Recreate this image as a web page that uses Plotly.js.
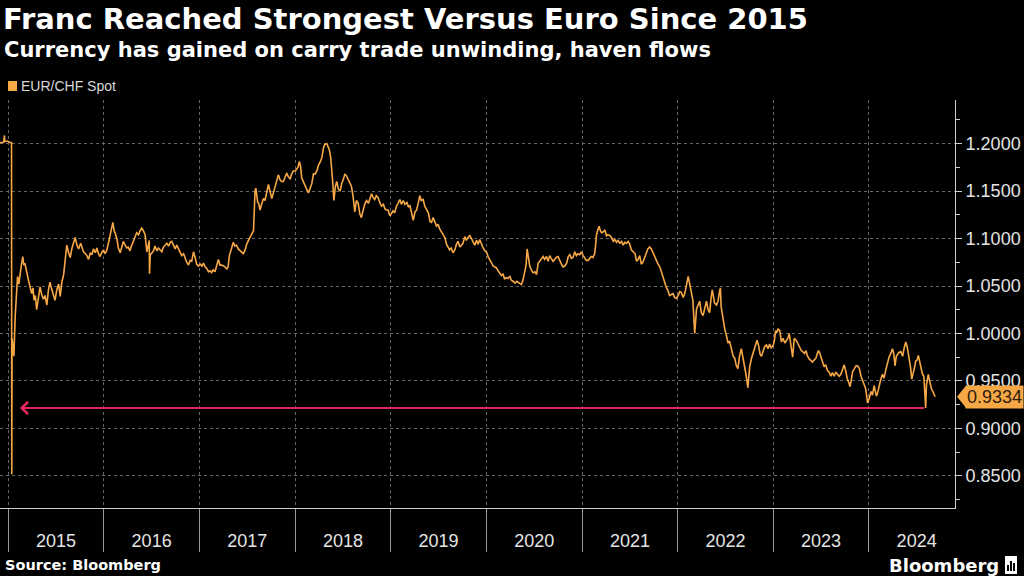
<!DOCTYPE html>
<html>
<head>
<meta charset="utf-8">
<script src="https://cdn.plot.ly/plotly-3.0.1.min.js"></script>
<style>html,body{margin:0;padding:0;background:#000;}#chart{width:1024px;height:576px;}</style>
</head>
<body>
<div id="chart"></div>
<script>
const titleText = 'Franc Reached Strongest Versus Euro Since 2015';
const subtitleText = 'Currency has gained on carry trade unwinding, haven flows';
const seriesName = 'EUR/CHF Spot';
const sourceText = 'Source: Bloomberg';
const yTickLabels = ['0.8500','0.9000','0.9500','1.0000','1.0500','1.1000','1.1500','1.2000'];
const arrowTip = '2015-02-15';

const dates = [
'2014-12-01','2014-12-05','2014-12-10','2014-12-15','2014-12-18','2014-12-19','2014-12-24','2014-12-31',
'2015-01-07','2015-01-14','2015-01-15','2015-01-16','2015-01-20','2015-01-23','2015-01-28','2015-02-03',
'2015-02-06','2015-02-11','2015-02-16','2015-02-20','2015-02-26','2015-03-02','2015-03-06','2015-03-12',
'2015-03-19','2015-03-25','2015-04-01','2015-04-06','2015-04-10','2015-04-15','2015-04-20','2015-04-27',
'2015-05-03','2015-05-09','2015-05-16','2015-05-22','2015-05-29','2015-06-04','2015-06-10','2015-06-16',
'2015-06-23','2015-06-29','2015-07-06','2015-07-13','2015-07-19','2015-07-25','2015-08-01','2015-08-07',
'2015-08-13','2015-08-20','2015-08-26','2015-09-02','2015-09-08','2015-09-14','2015-09-21','2015-09-27',
'2015-10-05','2015-10-10','2015-10-16','2015-10-23','2015-10-29','2015-11-04','2015-11-11','2015-11-17',
'2015-11-23','2015-11-30','2015-12-06','2015-12-12','2015-12-18','2015-12-24','2015-12-31',
'2016-01-06','2016-01-12','2016-01-19','2016-01-25','2016-01-29','2016-02-05','2016-02-10','2016-02-15',
'2016-02-20','2016-02-26','2016-03-04','2016-03-10','2016-03-16','2016-03-23','2016-03-29','2016-04-04',
'2016-04-10','2016-04-16','2016-04-23','2016-04-29','2016-05-06','2016-05-13','2016-05-19','2016-05-25',
'2016-06-01','2016-06-07','2016-06-14','2016-06-20','2016-06-23','2016-06-24','2016-06-27','2016-07-01',
'2016-07-09','2016-07-15','2016-07-22','2016-07-28','2016-08-03','2016-08-10','2016-08-16','2016-08-23',
'2016-08-29','2016-09-05','2016-09-11','2016-09-17','2016-09-24','2016-09-30','2016-10-06','2016-10-13',
'2016-10-19','2016-10-25','2016-11-01','2016-11-07','2016-11-13','2016-11-20','2016-11-26','2016-12-02',
'2016-12-09','2016-12-15','2016-12-21','2016-12-28',
'2017-01-04','2017-01-10','2017-01-16','2017-01-23','2017-01-30','2017-02-04','2017-02-10','2017-02-16',
'2017-02-22','2017-03-01','2017-03-07','2017-03-14','2017-03-20','2017-03-27','2017-04-03','2017-04-09',
'2017-04-15','2017-04-20','2017-04-25','2017-05-02','2017-05-10','2017-05-16','2017-05-22','2017-05-29',
'2017-06-05','2017-06-11','2017-06-17','2017-06-24','2017-06-30','2017-07-07','2017-07-14','2017-07-20',
'2017-07-26','2017-07-28','2017-08-01','2017-08-04','2017-08-08','2017-08-11','2017-08-15','2017-08-20',
'2017-08-25','2017-09-02','2017-09-08','2017-09-14','2017-09-21','2017-09-27','2017-10-04','2017-10-10',
'2017-10-16','2017-10-23','2017-10-29','2017-11-04','2017-11-10','2017-11-17','2017-11-23','2017-11-30',
'2017-12-06','2017-12-13','2017-12-19','2017-12-25',
'2018-01-02','2018-01-07','2018-01-12','2018-01-17','2018-01-22','2018-01-26','2018-02-01','2018-02-08',
'2018-02-14','2018-02-21','2018-02-27','2018-03-06','2018-03-12','2018-03-19','2018-03-26','2018-03-31',
'2018-04-06','2018-04-13','2018-04-19','2018-04-24','2018-05-02','2018-05-07','2018-05-12','2018-05-17',
'2018-05-21','2018-05-25','2018-05-29','2018-06-04','2018-06-09','2018-06-15','2018-06-22','2018-06-28',
'2018-07-04','2018-07-10','2018-07-16','2018-07-22','2018-07-29','2018-08-04','2018-08-10','2018-08-14',
'2018-08-17','2018-08-23','2018-08-30','2018-09-05','2018-09-11','2018-09-18','2018-09-25','2018-10-01',
'2018-10-08','2018-10-14','2018-10-20','2018-10-26','2018-11-01','2018-11-07','2018-11-14','2018-11-20',
'2018-11-27','2018-12-04','2018-12-10','2018-12-16','2018-12-22','2018-12-29',
'2019-01-04','2019-01-10','2019-01-16','2019-01-23','2019-01-29','2019-02-05','2019-02-11','2019-02-18',
'2019-02-24','2019-03-04','2019-03-10','2019-03-15','2019-03-22','2019-03-28','2019-04-04','2019-04-10',
'2019-04-16','2019-04-22','2019-04-28','2019-05-05','2019-05-11','2019-05-18','2019-05-25','2019-05-31',
'2019-06-06','2019-06-12','2019-06-18','2019-06-25','2019-07-01','2019-07-07','2019-07-14','2019-07-20',
'2019-07-27','2019-08-02','2019-08-08','2019-08-14','2019-08-20','2019-08-27','2019-09-03','2019-09-09',
'2019-09-15','2019-09-22','2019-09-28','2019-10-04','2019-10-11','2019-10-17','2019-10-23','2019-10-30',
'2019-11-05','2019-11-11','2019-11-18','2019-11-25','2019-12-01','2019-12-07','2019-12-13','2019-12-20',
'2019-12-27',
'2020-01-03','2020-01-08','2020-01-14','2020-01-20','2020-01-27','2020-02-03','2020-02-09','2020-02-15',
'2020-02-21','2020-02-28','2020-03-05','2020-03-11','2020-03-17','2020-03-24','2020-03-31','2020-04-06',
'2020-04-12','2020-04-20','2020-04-27','2020-05-01','2020-05-07','2020-05-14','2020-05-20','2020-05-26',
'2020-06-01','2020-06-05','2020-06-10','2020-06-15','2020-06-21','2020-06-28','2020-07-05','2020-07-11',
'2020-07-17','2020-07-23','2020-07-30','2020-08-05','2020-08-11','2020-08-18','2020-08-24','2020-08-30',
'2020-09-05','2020-09-12','2020-09-18','2020-09-24','2020-10-01','2020-10-08','2020-10-14','2020-10-20',
'2020-10-27','2020-11-03','2020-11-09','2020-11-15','2020-11-21','2020-11-27','2020-12-04','2020-12-10',
'2020-12-16','2020-12-23','2020-12-29',
'2021-01-05','2021-01-11','2021-01-17','2021-01-24','2021-01-30','2021-02-05','2021-02-11','2021-02-18',
'2021-02-23','2021-02-25','2021-03-03','2021-03-07','2021-03-12','2021-03-17','2021-03-22','2021-03-29',
'2021-04-04','2021-04-10','2021-04-17','2021-04-23','2021-04-30','2021-05-06','2021-05-12','2021-05-18',
'2021-05-25','2021-06-01','2021-06-07','2021-06-13','2021-06-20','2021-06-26','2021-07-02','2021-07-08',
'2021-07-15','2021-07-22','2021-07-28','2021-08-03','2021-08-09','2021-08-15','2021-08-21','2021-08-28',
'2021-09-03','2021-09-09','2021-09-16','2021-09-22','2021-09-29','2021-10-05','2021-10-12','2021-10-18',
'2021-10-25','2021-11-01','2021-11-06','2021-11-12','2021-11-18','2021-11-25','2021-12-01','2021-12-08',
'2021-12-14','2021-12-20','2021-12-27',
'2022-01-03','2022-01-09','2022-01-15','2022-01-22','2022-01-28','2022-02-02','2022-02-06','2022-02-10',
'2022-02-16','2022-02-22','2022-02-28','2022-03-07','2022-03-10','2022-03-14','2022-03-20','2022-03-26',
'2022-04-01','2022-04-08','2022-04-14','2022-04-21','2022-04-27','2022-05-03','2022-05-08','2022-05-13',
'2022-05-18','2022-05-22','2022-05-29','2022-06-04','2022-06-09','2022-06-13','2022-06-16','2022-06-21',
'2022-06-26','2022-06-30','2022-07-06','2022-07-12','2022-07-18','2022-07-25','2022-08-01','2022-08-07',
'2022-08-13','2022-08-19','2022-08-25','2022-09-01','2022-09-06','2022-09-10','2022-09-15','2022-09-20',
'2022-09-26','2022-10-03','2022-10-10','2022-10-16','2022-10-22','2022-10-27','2022-10-31','2022-11-06',
'2022-11-12','2022-11-17','2022-11-23','2022-11-29','2022-12-06','2022-12-12','2022-12-18','2022-12-24',
'2022-12-31',
'2023-01-05','2023-01-10','2023-01-15','2023-01-19','2023-01-26','2023-02-01','2023-02-07','2023-02-14',
'2023-02-20','2023-02-26','2023-03-03','2023-03-09','2023-03-16','2023-03-22','2023-03-29','2023-04-04',
'2023-04-12','2023-04-18','2023-04-23','2023-04-30','2023-05-06','2023-05-12','2023-05-19','2023-05-25',
'2023-05-31','2023-06-06','2023-06-13','2023-06-18','2023-06-23','2023-06-28','2023-07-02','2023-07-07',
'2023-07-14','2023-07-20','2023-07-27','2023-08-03','2023-08-09','2023-08-15','2023-08-21','2023-08-28',
'2023-09-04','2023-09-10','2023-09-16','2023-09-22','2023-09-29','2023-10-05','2023-10-11','2023-10-17',
'2023-10-21','2023-10-26','2023-10-31','2023-11-07','2023-11-13','2023-11-19','2023-11-26','2023-12-02',
'2023-12-08','2023-12-14','2023-12-20','2023-12-27',
'2024-01-03','2024-01-09','2024-01-15','2024-01-21','2024-01-25','2024-01-30','2024-02-04','2024-02-09',
'2024-02-15','2024-02-22','2024-02-28','2024-03-06','2024-03-12','2024-03-18','2024-03-25','2024-03-31',
'2024-04-05','2024-04-10','2024-04-15','2024-04-19','2024-04-25','2024-05-02','2024-05-09','2024-05-15',
'2024-05-21','2024-05-27','2024-06-03','2024-06-08','2024-06-13','2024-06-19','2024-06-24','2024-06-28',
'2024-07-03','2024-07-08','2024-07-15','2024-07-23','2024-07-29','2024-08-02','2024-08-05','2024-08-08',
'2024-08-12','2024-08-15','2024-08-20','2024-08-24','2024-08-28','2024-09-03','2024-09-10'
];

const eurchf = [
1.2010,1.2014,1.2011,1.2013,1.2085,1.2025,1.2022,1.2024,
1.2011,1.2010,0.8517,0.9950,0.9850,0.9760,1.0180,1.0480,
1.0600,1.0520,1.0670,1.0710,1.0810,1.0720,1.0740,1.0650,
1.0570,1.0500,1.0420,1.0480,1.0350,1.0400,1.0250,1.0380,
1.0490,1.0410,1.0360,1.0400,1.0300,1.0460,1.0540,1.0470,
1.0400,1.0350,1.0460,1.0520,1.0390,1.0540,1.0620,1.0750,
1.0930,1.0850,1.0800,1.0900,1.0960,1.1010,1.0930,1.0890,
1.0950,1.0900,1.0860,1.0840,1.0820,1.0780,1.0850,1.0830,
1.0890,1.0850,1.0900,1.0840,1.0810,1.0850,1.0880,
1.0840,1.0870,1.0950,1.1020,1.1080,1.1170,1.1080,1.1050,
1.1000,1.0900,1.0850,1.0920,1.0970,1.0930,1.0900,1.0910,
1.0870,1.0920,1.0960,1.1010,1.1060,1.1040,1.1080,1.1110,
1.1080,1.1040,1.0860,1.0940,1.0980,1.0630,1.0830,1.0840,
1.0870,1.0920,1.0870,1.0900,1.0880,1.0860,1.0910,1.0930,
1.0950,1.0920,1.0960,1.0970,1.0920,1.0890,1.0930,1.0890,
1.0850,1.0820,1.0840,1.0790,1.0750,1.0720,1.0770,1.0760,
1.0860,1.0800,1.0730,1.0710,
1.0730,1.0710,1.0740,1.0700,1.0680,1.0650,1.0660,1.0640,
1.0670,1.0650,1.0700,1.0780,1.0720,1.0720,1.0710,1.0700,
1.0680,1.0700,1.0820,1.0900,1.0960,1.0920,1.0930,1.0890,
1.0870,1.0860,1.0840,1.0880,1.0940,1.0980,1.1010,1.1050,
1.1080,1.1280,1.1500,1.1530,1.1450,1.1380,1.1370,1.1300,
1.1350,1.1420,1.1400,1.1480,1.1570,1.1500,1.1420,1.1480,
1.1540,1.1600,1.1670,1.1620,1.1600,1.1600,1.1640,1.1690,
1.1650,1.1630,1.1680,1.1710,
1.1710,1.1730,1.1750,1.1810,1.1760,1.1640,1.1600,1.1540,
1.1520,1.1480,1.1520,1.1580,1.1680,1.1680,1.1720,1.1770,
1.1800,1.1850,1.1950,1.1990,1.2000,1.1970,1.1930,1.1850,
1.1750,1.1580,1.1400,1.1550,1.1600,1.1520,1.1500,1.1580,
1.1620,1.1680,1.1660,1.1620,1.1580,1.1550,1.1450,1.1330,
1.1280,1.1400,1.1370,1.1260,1.1220,1.1300,1.1370,1.1400,
1.1370,1.1420,1.1470,1.1430,1.1410,1.1450,1.1430,1.1380,
1.1340,1.1360,1.1310,1.1300,1.1300,1.1240,
1.1270,1.1290,1.1270,1.1340,1.1370,1.1410,1.1360,1.1400,
1.1360,1.1380,1.1330,1.1350,1.1270,1.1190,1.1280,1.1300,
1.1370,1.1450,1.1400,1.1410,1.1340,1.1310,1.1270,1.1180,
1.1170,1.1220,1.1180,1.1130,1.1150,1.1100,1.1070,1.1040,
1.1010,1.0940,1.0900,1.0880,1.0900,1.0850,1.0880,1.0940,
1.0970,1.0910,1.0930,1.0950,1.1020,1.0980,1.1010,1.1030,
1.1000,1.0970,1.0930,1.0980,1.0940,1.0990,1.0940,1.0900,
1.0870,
1.0850,1.0810,1.0770,1.0750,1.0710,1.0700,1.0690,1.0660,
1.0630,1.0610,1.0630,1.0570,1.0590,1.0580,1.0600,1.0560,
1.0550,1.0530,1.0550,1.0540,1.0530,1.0515,1.0560,1.0650,
1.0720,1.0890,1.0780,1.0710,1.0670,1.0640,1.0650,1.0620,
1.0740,1.0760,1.0780,1.0810,1.0780,1.0810,1.0760,1.0820,
1.0790,1.0760,1.0780,1.0800,1.0810,1.0760,1.0730,1.0700,
1.0710,1.0740,1.0810,1.0830,1.0790,1.0800,1.0860,1.0820,
1.0840,1.0830,1.0860,
1.0820,1.0800,1.0770,1.0770,1.0790,1.0810,1.0800,1.0840,
1.0970,1.1040,1.1100,1.1130,1.1080,1.1060,1.1070,1.1090,
1.1030,1.1040,1.1030,1.1010,1.0970,1.0990,1.0960,1.0980,
1.0950,1.0970,1.0930,1.0960,1.0950,1.0970,1.0940,1.0880,
1.0860,1.0840,1.0760,1.0780,1.0820,1.0730,1.0750,1.0800,
1.0860,1.0890,1.0910,1.0890,1.0850,1.0810,1.0760,1.0730,
1.0700,1.0630,1.0590,1.0540,1.0490,1.0450,1.0400,1.0410,
1.0420,1.0380,1.0370,
1.0400,1.0440,1.0430,1.0380,1.0420,1.0490,1.0580,1.0600,
1.0520,1.0440,1.0350,1.0000,1.0180,1.0260,1.0300,1.0340,
1.0220,1.0190,1.0260,1.0340,1.0250,1.0220,1.0360,1.0460,
1.0380,1.0320,1.0300,1.0340,1.0430,1.0480,1.0280,1.0180,
1.0100,1.0040,0.9980,0.9900,0.9920,0.9830,0.9760,0.9740,
0.9660,0.9630,0.9760,0.9840,0.9770,0.9700,0.9630,0.9550,
0.9430,0.9650,0.9740,0.9790,0.9860,0.9900,0.9930,0.9870,
0.9780,0.9760,0.9810,0.9860,0.9880,0.9840,0.9890,0.9850,
0.9870,
0.9920,1.0030,1.0010,1.0050,1.0030,0.9910,0.9950,0.9900,
0.9930,0.9950,1.0000,0.9880,0.9750,0.9950,0.9930,0.9900,
0.9850,0.9820,0.9810,0.9790,0.9820,0.9760,0.9730,0.9710,
0.9700,0.9720,0.9740,0.9790,0.9820,0.9790,0.9760,0.9700,
0.9650,0.9670,0.9610,0.9590,0.9550,0.9590,0.9550,0.9590,
0.9570,0.9550,0.9570,0.9620,0.9670,0.9600,0.9520,0.9480,
0.9440,0.9510,0.9600,0.9630,0.9660,0.9660,0.9630,0.9550,
0.9500,0.9460,0.9420,0.9270,
0.9320,0.9390,0.9350,0.9450,0.9410,0.9340,0.9380,0.9460,
0.9510,0.9570,0.9530,0.9620,0.9680,0.9750,0.9790,0.9840,
0.9790,0.9660,0.9760,0.9780,0.9800,0.9810,0.9760,0.9850,
0.9910,0.9850,0.9740,0.9650,0.9520,0.9580,0.9650,0.9710,
0.9720,0.9770,0.9680,0.9580,0.9550,0.9400,0.9215,0.9460,
0.9520,0.9570,0.9500,0.9460,0.9410,0.9380,0.9334
];

const orange = '#f7a846';
const red = '#e0285a';
const W = 1024, H = 576;
const M = {l: 0, r: 69, t: 100, b: 68};
const plotW = W - M.l - M.r, plotH = H - M.t - M.b;
const yRange = [0.8163, 1.2458];
const px = x => (x - M.l) / plotW;          // page x -> paper x
const py = y => (H - M.b - y) / plotH;      // page y -> paper y

// low after the Jan 2015 floor removal
let lowIdx = -1;
for (let i = 0; i < dates.length; i++) {
  if (dates[i] > '2015-01-20' && (lowIdx < 0 || eurchf[i] < eurchf[lowIdx])) lowIdx = i;
}
const lowVal = eurchf[lowIdx], lowDate = dates[lowIdx];
const lastVal = eurchf[eurchf.length - 1];
const halfH = 11 * (yRange[1] - yRange[0]) / plotH;

const trace = {
  x: dates, y: eurchf, type: 'scatter', mode: 'lines', name: seriesName,
  line: {color: orange, width: 1.6}, hoverinfo: 'skip'
};

const layout = {
  width: W, height: H,
  paper_bgcolor: '#000', plot_bgcolor: '#000',
  margin: M, showlegend: false,
  title: {
    text: '<b>' + titleText + '</b>',
    font: {family: 'DejaVu Sans', size: 29, color: '#ffffff'},
    xref: 'container', x: 3 / W, xanchor: 'left',
    yref: 'container', y: 1 - 19 / H, yanchor: 'middle'
  },
  xaxis: {
    type: 'date', range: ['2014-12-01', '2024-11-25'],
    tick0: '2015-01-01', dtick: 'M12', tickformat: '%Y', ticklabelmode: 'period',
    ticks: 'outside', ticklen: 43, tickwidth: 1, tickcolor: '#9a9a9a',
    showline: true, linecolor: '#d0d0d0', linewidth: 1,
    showgrid: true, gridcolor: '#666666', griddash: 'dot', gridwidth: 1,
    zeroline: false, ticklabelstandoff: -27,
    tickfont: {family: 'Liberation Sans', size: 18, color: '#e4e4e4'}
  },
  yaxis: {
    side: 'right', range: yRange,
    tickmode: 'array', tickvals: yTickLabels.map(Number), ticktext: yTickLabels,
    ticks: 'outside', ticklen: 6, tickwidth: 1, tickcolor: '#d0d0d0',
    showline: true, linecolor: '#d0d0d0', linewidth: 1,
    showgrid: true, gridcolor: '#666666', griddash: 'dot', gridwidth: 1,
    zeroline: false,
    minor: {dtick: 0.025, tick0: 0.825, ticks: 'outside', ticklen: 4, tickcolor: '#d0d0d0', showgrid: false},
    tickfont: {family: 'Liberation Sans', size: 18, color: '#e4e4e4'}
  },
  shapes: [
    {type: 'rect', xref: 'paper', yref: 'paper', x0: px(8), x1: px(17), y0: py(91), y1: py(81),
     fillcolor: orange, line: {width: 0}},
    {type: 'path', xref: 'paper', yref: 'y',
     path: 'M ' + px(957) + ',' + lastVal + ' L ' + px(966) + ',' + (lastVal + halfH) +
           ' L ' + px(966) + ',' + (lastVal - halfH) + ' Z',
     fillcolor: orange, line: {width: 0}},
    {type: 'rect', xref: 'paper', yref: 'paper', x0: px(1005), x1: px(1017), y0: py(574), y1: py(556),
     fillcolor: '#ffffff', line: {width: 0}},
    {type: 'rect', xref: 'paper', yref: 'paper', x0: px(1007), x1: px(1009), y0: py(571), y1: py(565),
     fillcolor: '#000000', line: {width: 0}},
    {type: 'rect', xref: 'paper', yref: 'paper', x0: px(1010), x1: px(1012), y0: py(571), y1: py(561),
     fillcolor: '#000000', line: {width: 0}},
    {type: 'rect', xref: 'paper', yref: 'paper', x0: px(1013), x1: px(1015), y0: py(571), y1: py(563),
     fillcolor: '#000000', line: {width: 0}}
  ],
  annotations: [
    {text: '<b>' + subtitleText + '</b>', xref: 'paper', yref: 'paper', x: px(2), y: py(50),
     xanchor: 'left', yanchor: 'middle', showarrow: false,
     font: {family: 'DejaVu Sans', size: 21, color: '#ffffff'}},
    {text: seriesName, xref: 'paper', yref: 'paper', x: px(19), y: py(86),
     xanchor: 'left', yanchor: 'middle', showarrow: false,
     font: {family: 'Liberation Sans', size: 14, color: '#d8d8d8'}},
    {text: '<b>' + sourceText + '</b>', xref: 'paper', yref: 'paper', x: px(3), y: py(565),
     xanchor: 'left', yanchor: 'middle', showarrow: false,
     font: {family: 'DejaVu Sans', size: 14.5, color: '#ffffff'}},
    {text: '<b>Bloomberg</b>', xref: 'paper', yref: 'paper', x: px(1001), y: py(565),
     xanchor: 'right', yanchor: 'middle', showarrow: false,
     font: {family: 'DejaVu Sans', size: 18, color: '#ffffff'}},
    {text: lastVal.toFixed(4), xref: 'paper', yref: 'y', x: px(965), y: lastVal,
     xanchor: 'left', yanchor: 'middle', showarrow: false, bgcolor: orange, borderpad: 1,
     font: {family: 'Liberation Sans', size: 18, color: '#2e2010'}},
    {text: '', xref: 'x', yref: 'y', x: arrowTip, y: lowVal,
     axref: 'x', ayref: 'y', ax: lowDate, ay: lowVal,
     showarrow: true, arrowhead: 4, arrowsize: 1.2, arrowwidth: 2, arrowcolor: red,
     standoff: 0, startstandoff: 0}
  ]
};

Plotly.newPlot('chart', [trace], layout, {displayModeBar: false, staticPlot: true});
</script>
</body>
</html>
